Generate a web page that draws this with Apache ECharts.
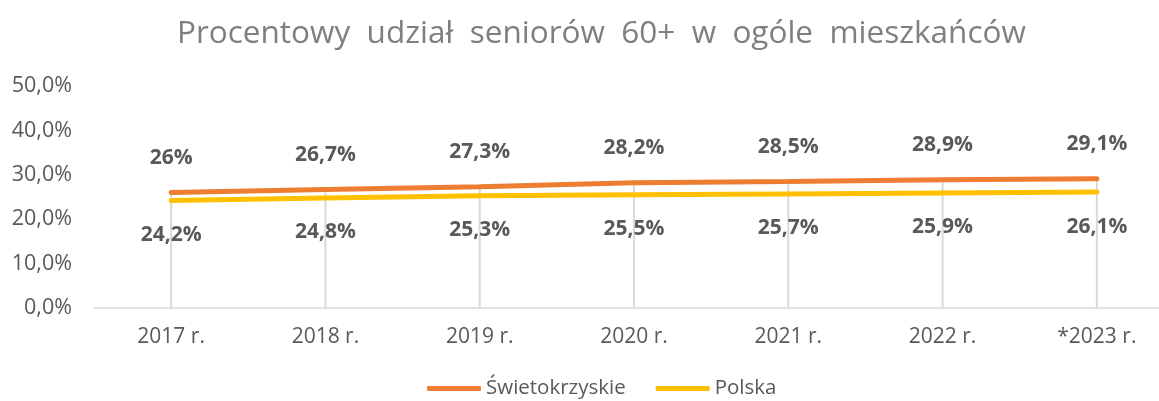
<!DOCTYPE html>
<html>
<head>
<meta charset="utf-8">
<script src="https://cdn.jsdelivr.net/npm/echarts@6/dist/echarts.min.js"></script>
<style>
html,body{margin:0;padding:0;background:#fff;}
#chart{width:1159px;height:401px;}
</style>
</head>
<body>
<div id="chart"></div>
<script>
// dane z wykresu
var lata = ['2017 r.', '2018 r.', '2019 r.', '2020 r.', '2021 r.', '2022 r.', '*2023 r.'];
var swietokrzyskie = [26, 26.7, 27.3, 28.2, 28.5, 28.9, 29.1];
var polska = [24.2, 24.8, 25.3, 25.5, 25.7, 25.9, 26.1];
var yTicks = [0, 10, 20, 30, 40, 50];

function pl(v) {
    return String(v).replace('.', ',') + '%';
}

var chart = echarts.init(document.getElementById('chart'));
var font = '"Open Sans", "Noto Sans", sans-serif';
var option = {
    animation: false,
    textStyle: {fontFamily: font},
    title: {
        text: 'Procentowy  udział  seniorów  60+  w  ogóle  mieszkańców',
        left: 172,
        top: 13,
        textStyle: {fontSize: 31.5, fontWeight: 'normal', color: '#7f7f7f', fontFamily: font}
    },
    legend: {
        data: ['Świetokrzyskie', 'Polska'],
        top: 378,
        left: 427,
        padding: 0,
        itemWidth: 54,
        itemHeight: 5,
        itemGap: 30,
        icon: 'roundRect',
        textStyle: {fontSize: 20.5, color: '#595959', fontFamily: font}
    },
    grid: {left: 94, width: 1080, top: 86, bottom: 93, outerBoundsMode: 'none', containLabel: false},
    xAxis: {
        type: 'category',
        data: lata,
        boundaryGap: true,
        axisLine: {lineStyle: {color: '#d9d9d9', width: 1.5}},
        axisTick: {show: false},
        axisLabel: {fontSize: 21, color: '#595959', margin: 19}
    },
    yAxis: {
        type: 'value',
        min: yTicks[0],
        max: yTicks[yTicks.length - 1],
        interval: 10,
        splitLine: {show: false},
        axisLine: {show: false},
        axisTick: {show: false},
        axisLabel: {
            fontSize: 21.5, color: '#595959', margin: 22,
            formatter: function (v) { return v.toFixed(1).replace('.', ',') + '%'; }
        }
    },
    series: [
        {
            // linie pionowe od osi do serii
            name: 'drop',
            type: 'bar',
            data: swietokrzyskie,
            barWidth: 2,
            silent: true,
            itemStyle: {color: '#d9d9d9'},
            z: 1
        },
        {
            name: 'Świetokrzyskie',
            type: 'line',
            data: swietokrzyskie,
            symbol: 'circle',
            symbolSize: 0,
            lineStyle: {color: '#ED7D31', width: 5, cap: 'round'},
            itemStyle: {color: '#ED7D31'},
            label: {
                show: true, position: 'top', distance: 24,
                fontSize: 21, fontWeight: 'bold', color: '#595959',
                formatter: function (p) { return pl(p.value); }
            },
            z: 3
        },
        {
            name: 'Polska',
            type: 'line',
            data: polska,
            symbol: 'circle',
            symbolSize: 0,
            lineStyle: {color: '#FFC000', width: 5, cap: 'round'},
            itemStyle: {color: '#FFC000'},
            label: {
                show: true, position: 'bottom', distance: 24,
                fontSize: 21, fontWeight: 'bold', color: '#595959',
                formatter: function (p) { return pl(p.value); }
            },
            z: 2
        }
    ]
};
chart.setOption(option);
</script>
</body>
</html>
